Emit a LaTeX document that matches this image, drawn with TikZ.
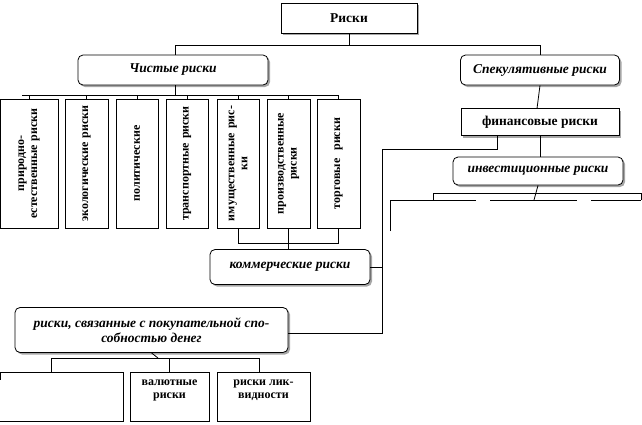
\documentclass[tikz,border=0pt]{standalone}
\usepackage{fontspec}
\setmainfont{Liberation Serif}
\usetikzlibrary{shadows}
\begin{document}
\begin{tikzpicture}[x=1pt,y=-1pt,line width=0.8pt,
  sh/.style={drop shadow={shadow xshift=2pt,shadow yshift=-2pt,fill=gray!70,opacity=1}},
  rb/.style={draw,rounded corners=5pt,fill=white,sh,font=\fontsize{13.5}{15}\selectfont\bfseries\itshape,align=center,inner sep=0pt},
  sb/.style={draw,fill=white,sh,font=\fontsize{13.5}{15}\selectfont\bfseries,inner sep=0pt},
  vt/.style={rotate=90,font=\fontsize{12}{13}\selectfont\bfseries,align=center,text width=125pt},
  pb/.style={font=\fontsize{12}{13}\selectfont\bfseries,align=center,inner sep=0pt}]
\useasboundingbox (0,0) rectangle (642,424);
% top
\node[sb,minimum width=136pt,minimum height=30pt] (R) at (349,18) {Риски};
\node[rb,minimum width=190pt,minimum height=30pt] (C) at (173,70) {Чистые риски};
\node[rb,minimum width=159pt,minimum height=30pt] (S) at (540,70) {Спекулятивные риски};
\draw (R.south) -- (349,45) coordinate (j0);
\draw (175,45) -- (540,45);
\draw (175,45) -- (175,55);
\draw (540,45) -- (S.north);
% vertical boxes
\foreach \n/\a/\b/\t in {v1/0/58/{природно-\\естественные риски},v2/65/108/{экологические риски},v3/116/158/{политические},v4/166/208/{транспортные риски},v5/217/259/{имущественные рис-\\ки},v6/267/310/{производственные\\риски},v7/317/360/{торговые~~риски}}{
  \draw[fill=white] (\a,99) rectangle (\b,228);
  \node[vt] (\n) at ({(\a+\b)/2},163.5) {\t};
  \draw ({(\a+\b)/2},95) -- ({(\a+\b)/2},99);
}
\draw (175,85) -- (175,95);
\draw (22,95) -- (338.5,95);
% commercial
\node[rb,minimum width=160pt,minimum height=35pt] (K) at (290,267) {коммерческие риски};
\draw (238,228) -- (238,243) -- (338.5,243) -- (338.5,228);
\draw (288.5,228) -- (288.5,250);
% speculative
\node[sb,minimum width=158pt,minimum height=27pt] (F) at (540,122) {финансовые риски};
\draw (S.south) -- (537,108.5);
\node[rb,minimum width=170pt,minimum height=28pt] (I) at (538,171) {инвестиционные риски};
\draw (540,135.5) -- (540,157);
\draw (I.south) -- (534,200);
\draw (433,200) -- (433,193) -- (641,193) -- (641,200);
\draw (390,231) -- (390,200) -- (476,200);
\draw (490,200) -- (577,200);
\draw (591,200) -- (641,200);
% purchasing power
\node[rb,minimum width=273pt,minimum height=45pt] (P) at (151.5,330) {риски, связанные с покупательной спо-\\собностью денег};
\draw (497,135.5) -- (497,149) -- (382,149) -- (382,333) -- (P.east |- 382,333);
\draw (K.east) -- (382,267);
\draw (P.south) -- (158,358);
\draw (51,372) -- (51,358) -- (259,358) -- (259,372);
\draw (169.5,358) -- (169.5,372);
\draw (0,372) -- (123,372) -- (123,421) -- (0,421);
\draw (0,372) -- (0,380);
\draw (130,372) rectangle (209,421);
\draw (217,372) rectangle (310,421);
\node[pb] (val) at (169.5,390) {валютные\\риски};
\node[pb] (liq) at (263.5,390) {риски лик-\\видности};
\end{tikzpicture}
\end{document}
